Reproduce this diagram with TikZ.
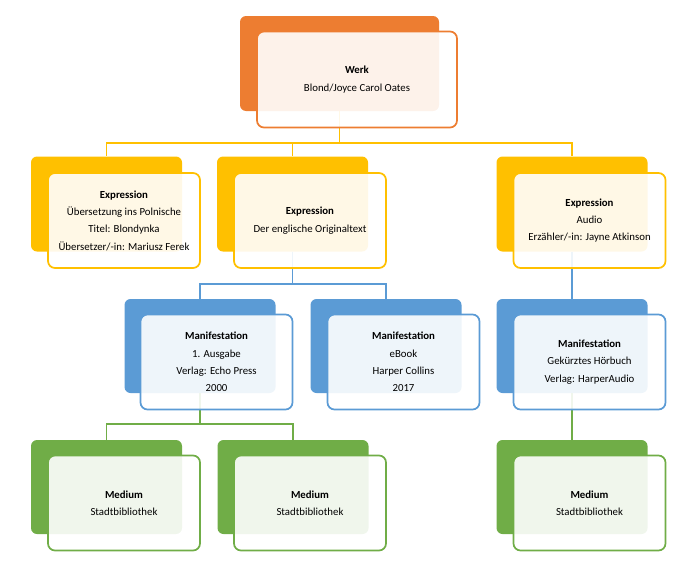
\documentclass[tikz,border=0pt]{standalone}
\usepackage{fontspec}
\setmainfont{Carlito}
\usepackage{tikz}

\definecolor{werkc}{HTML}{ED7D31}
\definecolor{exprc}{HTML}{FFC000}
\definecolor{manic}{HTML}{5B9BD5}
\definecolor{medic}{HTML}{70AD47}

\tikzset{
    back/.style={rectangle, rounded corners=6pt, fill=#1, minimum width=151pt, minimum height=95pt, inner sep=0pt},
    front/.style={rectangle, rounded corners=7pt, draw=#1, line width=1.7pt, fill=white, fill opacity=0.9, text opacity=1,
        minimum width=152pt, minimum height=95pt, inner sep=0pt, align=center, font=\fontsize{10.8}{17.3}\selectfont},
    link/.style={draw=#1, line width=1.6pt},
}

\begin{document}
\begin{tikzpicture}[x=1pt, y=-1pt]
    \useasboundingbox (0, 0) rectangle (679, 562);

    % back boxes: werk, expressions
    \node[back=werkc, minimum width=199pt] (wb) at (339.5, 63.5) {};
    \node[back=exprc] (e1b) at (106.5, 204) {};
    \node[back=exprc] (e2b) at (292.5, 204) {};
    \node[back=exprc] (e3b) at (572, 204) {};
    % back boxes: manifestations, media
    \node[back=manic, minimum height=94pt] (m1b) at (200, 346) {};
    \node[back=manic, minimum height=94pt] (m2b) at (386, 346) {};
    \node[back=manic, minimum height=94pt] (m3b) at (572, 346) {};
    \node[back=medic, minimum height=94pt] (d1b) at (106.5, 487) {};
    \node[back=medic, minimum height=94pt] (d2b) at (293, 487) {};
    \node[back=medic, minimum height=94pt] (d3b) at (572, 487) {};

    % links: werk - expressions
    \draw[link=exprc] (wb.south) -- ++(0, 32) -| (e1b.north);
    \draw[link=exprc] (wb.south) -- ++(0, 32) -| (e2b.north);
    \draw[link=exprc] (wb.south) -- ++(0, 32) -| (e3b.north);
    % links: expressions - manifestations
    \draw[link=manic] (e2b.south) -- ++(0, 32.5) -| (m1b.north);
    \draw[link=manic] (e2b.south) -- ++(0, 32.5) -| (m2b.north);
    \draw[link=manic] (e3b.south) -- (m3b.north);
    % links: manifestations - media
    \draw[link=medic] (m1b.south) -- ++(0, 31) -| (d1b.north);
    \draw[link=medic] (m1b.south) -- ++(0, 31) -| (d2b.north);
    \draw[link=medic] (m3b.south) -- (d3b.north);

    % front boxes: werk, expressions
    \node[front=werkc, minimum width=200pt, minimum height=96pt] (w) at (357, 79.5) {\textbf{Werk}\\Blond/Joyce Carol Oates};
    \node[front=exprc] (e1) at (124, 220.5) {\textbf{Expression}\\Übersetzung ins Polnische\\Titel: Blondynka\\Übersetzer/-in: Mariusz Ferek};
    \node[front=exprc] (e2) at (310, 220.5) {\textbf{Expression}\\Der englische Originaltext};
    \node[front=exprc] (e3) at (589.5, 220.5) {\textbf{Expression}\\Audio\\Erzähler/-in: Jayne Atkinson};
    % front boxes: manifestations
    \node[front=manic] (m1) at (216.5, 362) {\textbf{Manifestation}\\1. Ausgabe\\Verlag: Echo Press\\2000};
    \node[front=manic] (m2) at (403.5, 362) {\textbf{Manifestation}\\eBook\\Harper Collins\\2017};
    \node[front=manic] (m3) at (589.5, 362) {\textbf{Manifestation}\\Gekürztes Hörbuch\\Verlag: HarperAudio};
    % front boxes: media
    \node[front=medic] (d1) at (124, 503) {\textbf{Medium}\\Stadtbibliothek};
    \node[front=medic] (d2) at (310, 503) {\textbf{Medium}\\Stadtbibliothek};
    \node[front=medic] (d3) at (589.5, 503) {\textbf{Medium}\\Stadtbibliothek};
\end{tikzpicture}
\end{document}
